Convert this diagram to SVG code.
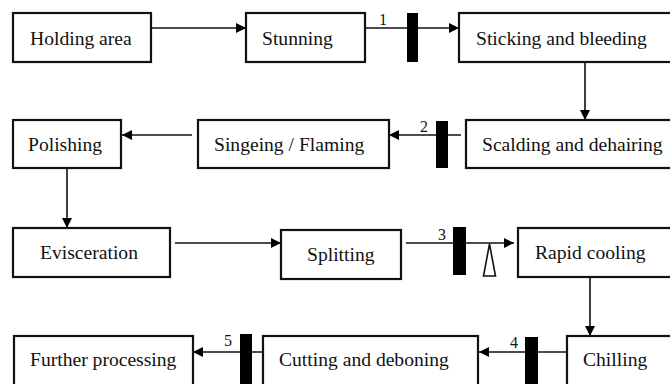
<svg xmlns="http://www.w3.org/2000/svg" width="670" height="384" viewBox="0 0 670 384">
<style>
.box{fill:#fff;stroke:#111;stroke-width:2.2}
.t{font-family:'Liberation Serif','Times New Roman','DejaVu Serif',serif;font-size:19.6px;fill:#111}
.n{font-family:'Liberation Serif','Times New Roman','DejaVu Serif',serif;font-size:16px;fill:#111}
.ln{stroke:#111;stroke-width:1.6;fill:none}
.bar{fill:#000}
</style>
<defs>
<marker id="ah" viewBox="0 0 10 10" refX="10" refY="5" markerWidth="10" markerHeight="10" markerUnits="userSpaceOnUse" orient="auto">
<path d="M0,0 L10,5 L0,10 Z" fill="#000"/>
</marker>
</defs>
<rect width="670" height="384" fill="#fff"/>
<g id="connectors">
<line class="ln" x1="151" y1="28" x2="246" y2="28" marker-end="url(#ah)"/>
<line class="ln" x1="365" y1="28" x2="459" y2="28" marker-end="url(#ah)"/>
<rect class="bar" x="407" y="13" width="11" height="49"/>
<text class="n" x="379" y="25">1</text>
<line class="ln" x1="585" y1="62" x2="585" y2="120" marker-end="url(#ah)"/>
<line class="ln" x1="461" y1="135" x2="389" y2="135" marker-end="url(#ah)"/>
<rect class="bar" x="436" y="121" width="12" height="47"/>
<text class="n" x="420" y="132">2</text>
<line class="ln" x1="192" y1="135" x2="122" y2="135" marker-end="url(#ah)"/>
<line class="ln" x1="67" y1="168" x2="67" y2="228" marker-end="url(#ah)"/>
<line class="ln" x1="175" y1="243" x2="281" y2="243" marker-end="url(#ah)"/>
<line class="ln" x1="406" y1="243" x2="514" y2="243" marker-end="url(#ah)"/>
<rect class="bar" x="453" y="227" width="13" height="48"/>
<text class="n" x="438" y="240">3</text>
<polygon points="489.5,244 483.5,276 495.5,276" fill="#fff" stroke="#111" stroke-width="1.6"/>
<line class="ln" x1="590" y1="277" x2="590" y2="336" marker-end="url(#ah)"/>
<line class="ln" x1="567" y1="352" x2="479" y2="352" marker-end="url(#ah)"/>
<rect class="bar" x="525" y="337" width="13" height="50"/>
<text class="n" x="510" y="348">4</text>
<line class="ln" x1="263" y1="352" x2="193" y2="352" marker-end="url(#ah)"/>
<rect class="bar" x="240" y="334" width="12" height="53"/>
<text class="n" x="224" y="346">5</text>
</g>
<g id="holding"><rect class="box" x="13" y="13" width="138" height="49"/><text class="t" x="30" y="45">Holding area</text></g>
<g id="stunning"><rect class="box" x="246" y="13" width="119" height="49"/><text class="t" x="262" y="45">Stunning</text></g>
<g id="sticking"><rect class="box" x="459" y="13" width="215" height="49"/><text class="t" x="476" y="45">Sticking and bleeding</text></g>
<g id="scalding"><rect class="box" x="466" y="120" width="208" height="48"/><text class="t" x="482" y="151">Scalding and dehairing</text></g>
<g id="singeing"><rect class="box" x="198" y="120" width="191" height="48"/><text class="t" x="214" y="151">Singeing / Flaming</text></g>
<g id="polishing"><rect class="box" x="13" y="120" width="108" height="48"/><text class="t" x="28" y="151">Polishing</text></g>
<g id="evisceration"><rect class="box" x="13" y="228" width="157" height="49"/><text class="t" x="40" y="259">Evisceration</text></g>
<g id="splitting"><rect class="box" x="281" y="230" width="120" height="49"/><text class="t" x="307" y="261">Splitting</text></g>
<g id="rapid"><rect class="box" x="518" y="228" width="156" height="49"/><text class="t" x="535" y="259">Rapid cooling</text></g>
<g id="chilling"><rect class="box" x="567" y="336" width="107" height="52"/><text class="t" x="583" y="366">Chilling</text></g>
<g id="cutting"><rect class="box" x="263" y="336" width="215" height="52"/><text class="t" x="279" y="366">Cutting and deboning</text></g>
<g id="further"><rect class="box" x="14" y="336" width="179" height="52"/><text class="t" x="30" y="366">Further processing</text></g>
</svg>
